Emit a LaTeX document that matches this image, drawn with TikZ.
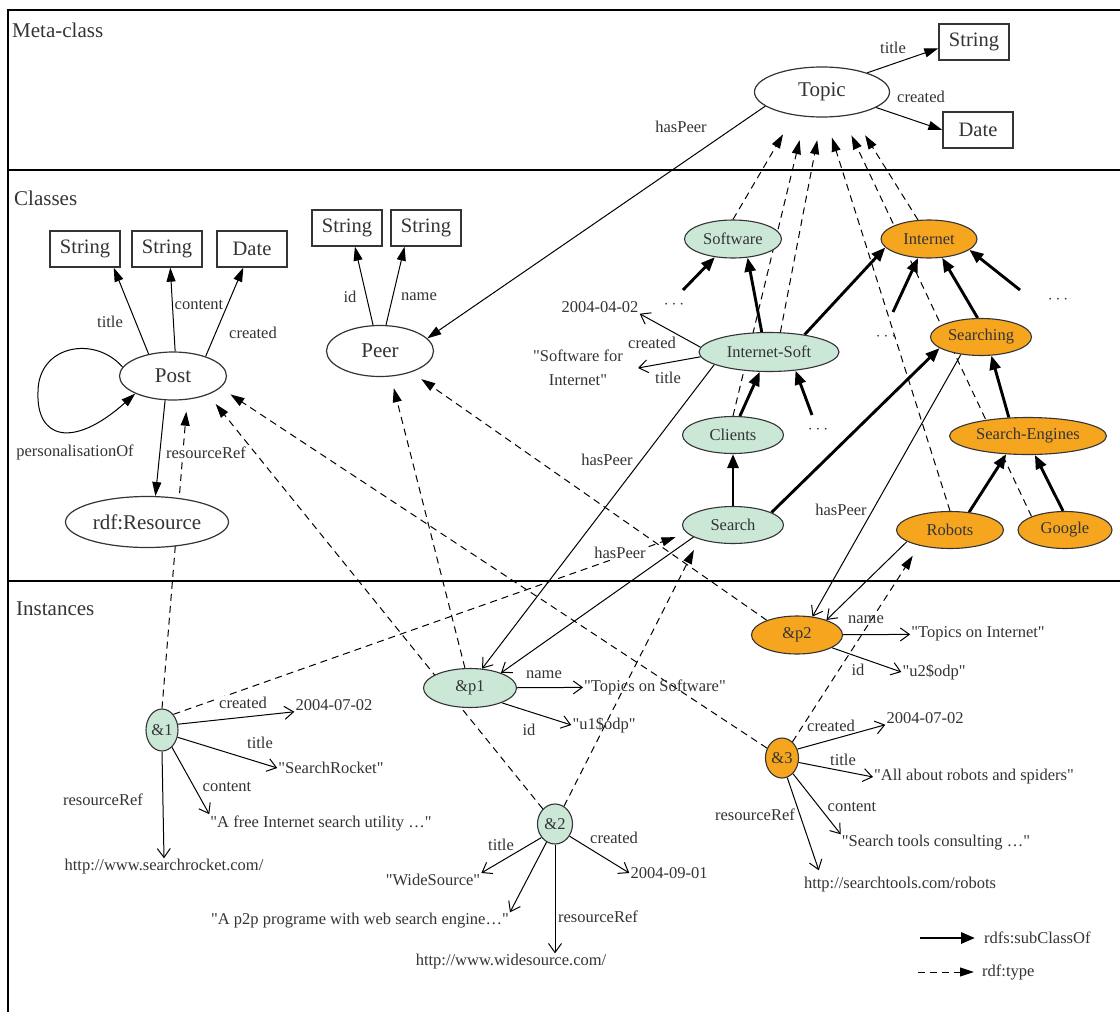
\documentclass[tikz,border=0pt]{standalone}
\usepackage{fontspec}
\setmainfont{Liberation Serif}[Ligatures=TeXOff]
\usetikzlibrary{shapes.geometric,arrows.meta,backgrounds}
\definecolor{ink}{RGB}{51,51,56}
\definecolor{mint}{RGB}{203,231,214}
\definecolor{amber}{RGB}{246,166,30}
\begin{document}
\begin{tikzpicture}[x = 1pt, y = -1pt, color = ink,
	sect/.style = {anchor=west, inner sep=1pt, font=\fontsize{21}{23}\selectfont},
	lbl/.style = {inner sep=1pt, font=\fontsize{16.5}{18}\selectfont},
	val/.style = {inner sep=1pt, font=\fontsize{16.5}{18}\selectfont},
	box/.style = {draw, line width=1.3pt, fill=white, minimum width=70pt, minimum height=36pt, inner sep=0pt, font=\fontsize{20.5}{22}\selectfont},
	cls/.style = {ellipse, draw, line width=1.2pt, fill=white, inner sep=0pt, font=\fontsize{21}{23}\selectfont},
	swcls/.style = {ellipse, draw, line width=1.1pt, fill=mint, inner sep=0pt, minimum height=37pt, font=\fontsize{16.5}{18}\selectfont},
	netcls/.style = {swcls, fill=amber},
	sub/.style = {line width=2.9pt, -{Triangle[length=14pt,width=11pt]}},
	typ/.style = {line width=1pt, dash pattern=on 7pt off 5pt, -{Triangle[length=14pt,width=9pt]}, shorten >=12pt},
	prop/.style = {line width=1pt, -{Triangle[length=14pt,width=9pt]}},
	inst/.style = {line width=1pt, -{Straight Barb[length=9pt,width=13pt]}}]
\useasboundingbox (0,0) rectangle (1120,1012);

% meta-class
\node[sect] (lmeta) at (11,30) {Meta-class};
\node[cls, minimum width=135pt, minimum height=50pt] (topic) at (822,92) {Topic};
\node[box] (tstr) at (974,42) {String};
\node[box] (tdate) at (978,130) {Date};
\node[lbl] (lbtt) at (893,48) {title};
\node[lbl] (lbtc) at (921,97) {created};
\node[lbl] (lbthp) at (681,127) {hasPeer};

% classes
\node[sect] (lcls) at (13,198) {Classes};
\node[box] (s1) at (85,249) {String};
\node[box] (s2) at (167,249) {String};
\node[box] (sdate) at (252,249) {Date};
\node[box] (ps1) at (347,228) {String};
\node[box] (ps2) at (426,228) {String};
\node[cls, minimum width=107pt, minimum height=48pt] (post) at (173,376) {Post};
\node[cls, minimum width=107pt, minimum height=51pt] (peer) at (380,351) {Peer};
\node[cls, minimum width=163pt, minimum height=51pt] (res) at (147,522) {rdf:Resource};
\node[lbl] (lbpt) at (110,322) {title};
\node[lbl] (lbpc) at (199,305) {content};
\node[lbl] (lbpd) at (253,333) {created};
\node[lbl] (lbpid) at (350,297) {id};
\node[lbl] (lbpn) at (419,297) {name};
\node[lbl] (lbpers) at (75,452) {personalisationOf};
\node[lbl, fill=white] (lbpres) at (206,453) {resourceRef};

\node[swcls, minimum width=97pt, minimum height=38pt] (software) at (733,239) {Software};
\node[netcls, minimum width=96pt, minimum height=38pt] (internet) at (929,239) {Internet};
\node[swcls, minimum width=140pt, minimum height=39pt] (isoft) at (769,352) {Internet-Soft};
\node[swcls, minimum width=101pt] (clients) at (733,435) {Clients};
\node[swcls, minimum width=101pt] (search) at (733,525) {Search};
\node[netcls, minimum width=101pt] (searching) at (981,337) {Searching};
\node[netcls, minimum width=157pt] (sengines) at (1028,436) {Search-Engines};
\node[netcls, minimum width=107pt] (robots) at (950,530) {Robots};
\node[netcls, minimum width=94pt] (google) at (1065,530) {Google};

\node[val] (isd) at (600,307) {2004-04-02};
\node[val, align=center, font=\fontsize{16.5}{24}\selectfont] (ist) at (578,368) {"Software for\\Internet"};
\node[lbl] (lbisc) at (652,343) {created};
\node[lbl] (lbist) at (668,378) {title};
\node[lbl] (lbhp1) at (607,460) {hasPeer};
\node[lbl, fill=white] (lbhp2) at (620,553) {hasPeer};
\node[lbl] (lbhp3) at (841,510) {hasPeer};
\node[val] (dsw) at (674,305) {$\cdots$};
\node[val] (dnet1) at (886,337) {$\cdots$};
\node[val] (dnet2) at (1058,300) {$\cdots$};
\node[val] (disoft) at (818,430) {$\cdots$};
\coordinate (swstub) at (683,290);
\coordinate (netstub1) at (893,312);
\coordinate (netstub2) at (1020,290);
\coordinate (isstub) at (812,415);

% instances
\node[sect] (linst) at (15,609) {Instances};
\node[swcls, minimum width=93pt, minimum height=39pt] (p1) at (470,688) {\&p1};
\node[netcls, minimum width=91pt, minimum height=38pt] (p2) at (797,635) {\&p2};
\node[swcls, minimum width=32pt, minimum height=42pt] (i1) at (162,730) {\&1};
\node[swcls, minimum width=35pt, minimum height=40pt] (i2) at (555,824) {\&2};
\node[netcls, minimum width=33pt, minimum height=40pt] (i3) at (782,758) {\&3};

\node[val] (n1) at (655,687) {"Topics on Software"};
\node[val] (id1) at (604,725) {"u1\$odp"};
\node[val] (n2) at (978,634) {"Topics on Internet"};
\node[val] (id2) at (934,672) {"u2\$odp"};
\node[lbl] (lbn1) at (544,675) {name};
\node[lbl] (lbid1) at (529,730) {id};
\node[lbl] (lbn2) at (866,620) {name};
\node[lbl] (lbid2) at (858,670) {id};

\node[val] (d1) at (334,705) {2004-07-02};
\node[val] (t1) at (331,768) {"SearchRocket"};
\node[val] (c1) at (321,823) {"A free Internet search utility \dots"};
\node[val] (r1) at (164,867) {http://www.searchrocket.com/};
\node[lbl, fill=white] (lb1c) at (243,703) {created};
\node[lbl] (lb1t) at (260,743) {title};
\node[lbl] (lb1ct) at (227,787) {content};
\node[lbl] (lb1r) at (103,800) {resourceRef};

\node[val] (t2) at (433,880) {"WideSource"};
\node[val] (c2) at (360,921) {"A p2p programe with web search engine\dots"};
\node[val] (r2) at (511,962) {http://www.widesource.com/};
\node[val] (d2) at (669,873) {2004-09-01};
\node[lbl] (lb2t) at (501,845) {title};
\node[lbl] (lb2c) at (614,838) {created};
\node[lbl] (lb2r) at (598,917) {resourceRef};

\node[val] (d3) at (925,718) {2004-07-02};
\node[val] (t3) at (974,777) {"All about robots and spiders"};
\node[val] (c3) at (936,843) {"Search tools consulting \dots"};
\node[val] (r3) at (900,885) {http://searchtools.com/robots};
\node[lbl] (lb3c) at (831,726) {created};
\node[lbl] (lb3t) at (843,760) {title};
\node[lbl] (lb3ct) at (852,807) {content};
\node[lbl] (lb3r) at (755,815) {resourceRef};

% legend
\coordinate (lgsub) at (920,938);
\coordinate (lgtyp) at (918,972);
\node[val, anchor=west] (legsub) at (983,938) {rdfs:subClassOf};
\node[val, anchor=west] (legtyp) at (981,972) {rdf:type};

\begin{pgfonlayer}{background}
\draw[line width=1.3pt] (8,1012) -- (8,10) -- (1120,10); %frame
\draw[line width=1.3pt] (8,170) -- (1120,170);
\draw[line width=1.3pt] (8,581) -- (1120,581);

\draw[prop] (topic.23) -- (tstr.190);
\draw[prop] (topic.-16) -- (tdate.west);
\draw[prop] (topic.194) -- (peer.15); %hasPeer

\draw[prop] (post.138) -- (s1.-33);
\draw[prop] (post.85) -- (s2.-80);
\draw[prop] (post.31) -- (sdate.-115);
\draw[prop] (peer.105) -- (ps1.-67);
\draw[prop] (peer.77) -- (ps2.-139);
\draw[prop] (post.170) .. controls (95,335) and (38,345) .. (38,392) .. controls (36,438) and (72,450) .. (post.205);
\draw[prop] (post.252) -- (res.72);

\draw[sub] (isoft.110) -- (software.-52);
\draw[sub] (swstub) -- (software.-135);
\draw[sub] (isoft.26) -- (internet.191);
\draw[sub] (netstub1) -- (internet.-120);
\draw[sub] (searching.100) -- (internet.-55);
\draw[sub] (netstub2) -- (internet.-15);
\draw[sub] (clients.70) -- (isoft.-115);
\draw[sub] (isstub) -- (isoft.-35);
\draw[sub] (search) -- (clients);
\draw[sub] (search.18) -- (searching.195);
\draw[sub] (sengines.136) -- (searching.-61);
\draw[sub] (robots.43) -- (sengines.220);
\draw[sub] (google.96) -- (sengines.-70);

\draw[typ, shorten >=22pt] (software.north) -- (topic.220);
\draw[typ, shorten >=24pt] (clients.north) -- (topic.236);
\draw[typ, shorten >=23pt] (isoft.60) -- (topic.269);
\draw[typ, shorten >=21pt] (robots.north) -- (topic.278);
\draw[typ, shorten >=21pt] (google.158) -- (topic.310);
\draw[typ, shorten >=24pt] (internet.120) -- (topic.323);

\draw[inst] (isoft.176) -- (isd.south east);
\draw[inst] (isoft.184) -- ([xshift=14pt]ist.east);
\draw[inst] (isoft.193) -- (p1.58); %hasPeer
\draw[inst] (search.197) -- (p1.26);
\draw[inst] (searching.221) -- (p2.50);
\draw[inst] (robots.195) -- (p2.27);

\draw[typ] (i1.north) -- (post.-59);
\draw[typ] (i1.54) -- (search.190);
\draw[typ] (i2) -- (post.-28);
\draw[typ] (i2) -- (search.203);
\draw[typ] (i3) -- (post.-14);
\draw[typ] (i3) -- (robots.207);
\draw[typ] (p1) -- (peer.-67);
\draw[typ] (p2.154) -- (peer.-34);

\draw[inst] (p1) -- (n1);
\draw[inst] (p1.-25) -- (id1.west);
\draw[inst] (p2) -- (n2);
\draw[inst] (p2.-20) -- (id2.west);
\draw[inst] (i1.20) -- (d1.south west);
\draw[inst] (i1.-25) -- (t1.west);
\draw[inst] (i1.-60) -- (c1.north west);
\draw[inst] (i1.south) -- (r1.north);
\draw[inst] (i2.225) -- (t2.north east);
\draw[inst] (i2.245) -- (c2.north east);
\draw[inst] (i2.south) -- (i2.south |- r2.north);
\draw[inst] (i2.-40) -- (d2.west);
\draw[inst] (i3.30) -- (d3.south west);
\draw[inst] (i3.-15) -- (t3.west);
\draw[inst] (i3.-55) -- (c3.north west);
\draw[inst] (i3.-75) -- ([xshift=16pt,yshift=6pt]r3.north west);

\draw[sub] (lgsub) -- ([xshift=-8pt]legsub.west); %legend
\draw[typ, shorten >=0pt] (lgtyp) -- ([xshift=-7pt]legtyp.west);
\end{pgfonlayer}
\end{tikzpicture}
\end{document}
